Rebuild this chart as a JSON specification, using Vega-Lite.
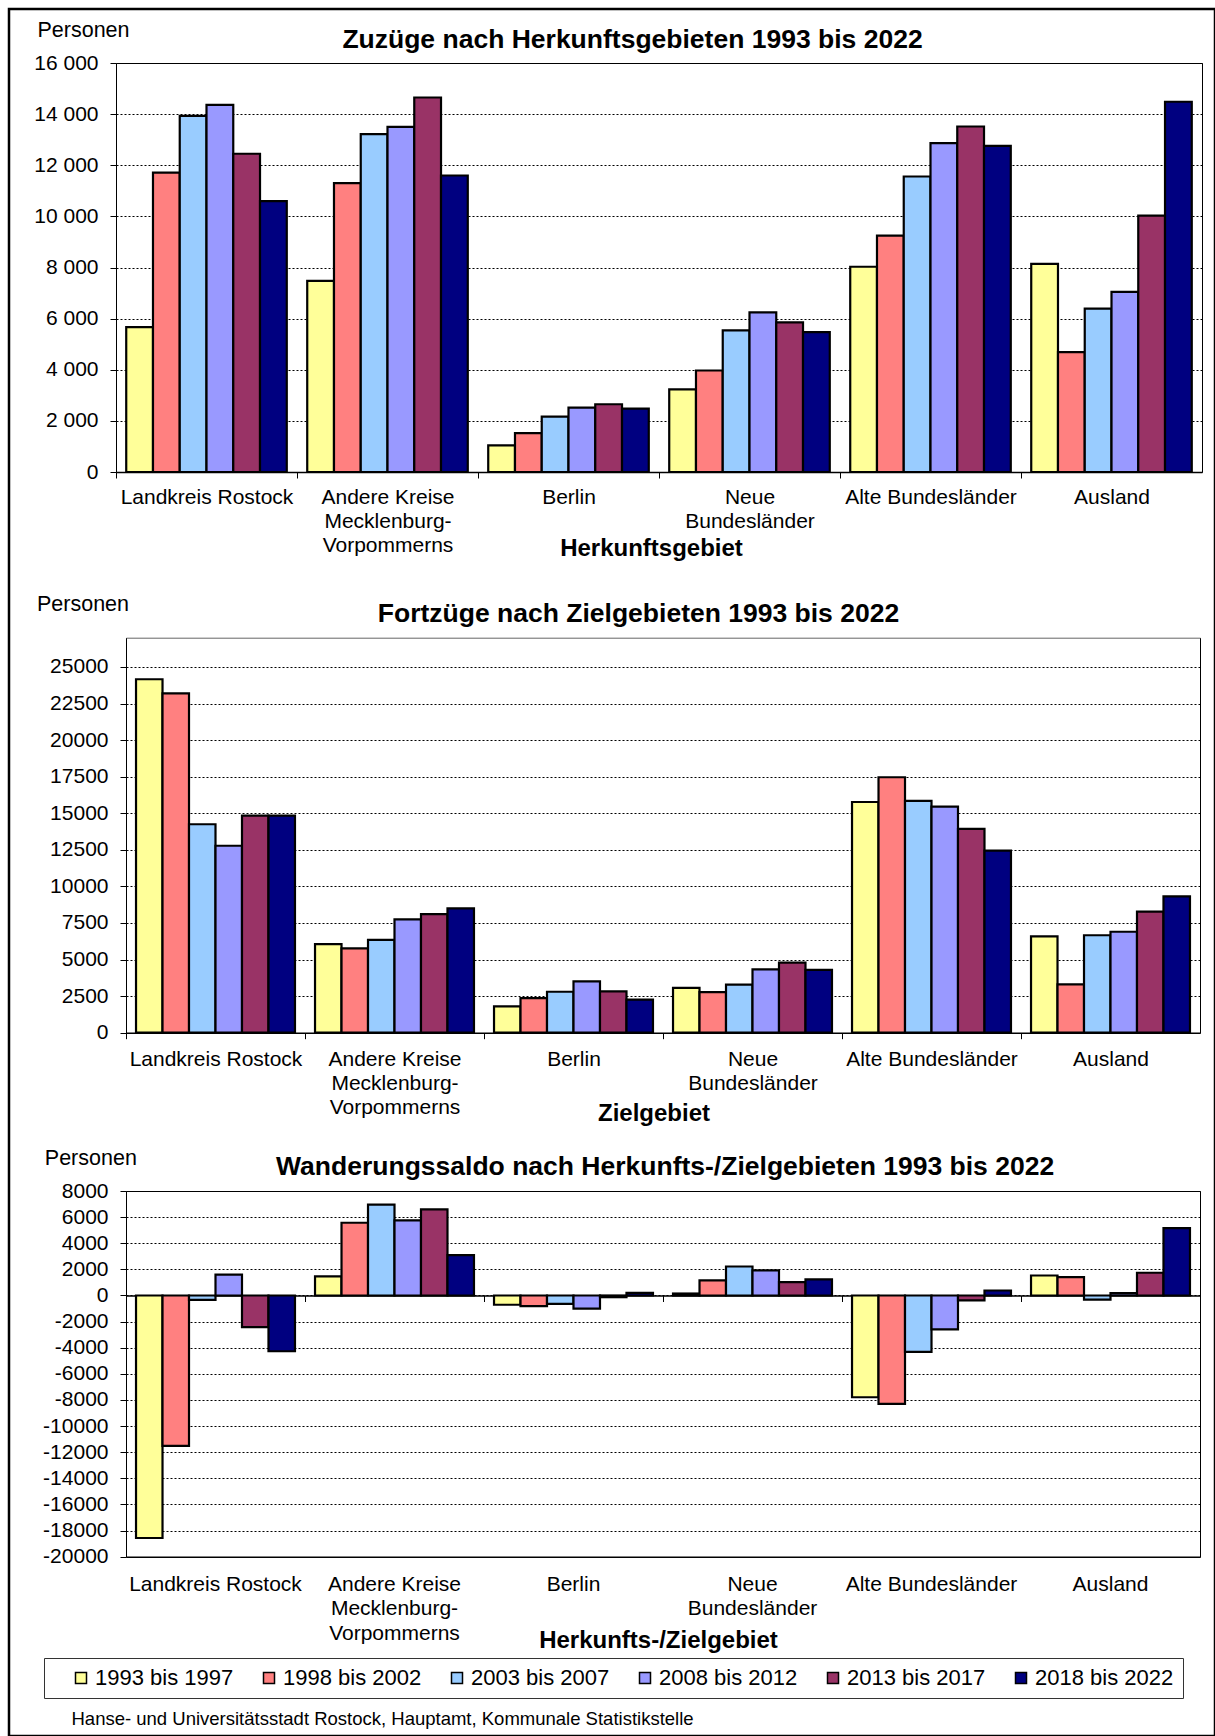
{
  "$schema": "https://vega.github.io/schema/vega-lite/v6.json",
  "width": 1206,
  "height": 1727,
  "padding": {"left": 9, "top": 9, "right": 0, "bottom": 0},
  "autosize": {"type": "none"},
  "background": "white",
  "config": {
    "font": "Liberation Sans",
    "view": {"stroke": "black", "strokeWidth": 2.5},
    "axis": {"labelColor": "black", "titleColor": "black", "domainColor": "black", "tickColor": "black", "labelFont": "Liberation Sans", "titleFont": "Liberation Sans", "labelFontSize": 21, "labelOverlap": false, "labelFlush": false, "labelLimit": 400, "titleFontWeight": "bold", "domainWidth": 1}
  },
  "datasets": {
    "zuzuege": [
      {"gebiet": "Landkreis Rostock", "zeitraum": "1993 bis 1997", "wert": 5670},
      {"gebiet": "Landkreis Rostock", "zeitraum": "1998 bis 2002", "wert": 11710},
      {"gebiet": "Landkreis Rostock", "zeitraum": "2003 bis 2007", "wert": 13930},
      {"gebiet": "Landkreis Rostock", "zeitraum": "2008 bis 2012", "wert": 14360},
      {"gebiet": "Landkreis Rostock", "zeitraum": "2013 bis 2017", "wert": 12450},
      {"gebiet": "Landkreis Rostock", "zeitraum": "2018 bis 2022", "wert": 10600},
      {"gebiet": "Andere Kreise Mecklenburg-Vorpommerns", "zeitraum": "1993 bis 1997", "wert": 7480},
      {"gebiet": "Andere Kreise Mecklenburg-Vorpommerns", "zeitraum": "1998 bis 2002", "wert": 11300},
      {"gebiet": "Andere Kreise Mecklenburg-Vorpommerns", "zeitraum": "2003 bis 2007", "wert": 13220},
      {"gebiet": "Andere Kreise Mecklenburg-Vorpommerns", "zeitraum": "2008 bis 2012", "wert": 13500},
      {"gebiet": "Andere Kreise Mecklenburg-Vorpommerns", "zeitraum": "2013 bis 2017", "wert": 14650},
      {"gebiet": "Andere Kreise Mecklenburg-Vorpommerns", "zeitraum": "2018 bis 2022", "wert": 11600},
      {"gebiet": "Berlin", "zeitraum": "1993 bis 1997", "wert": 1040},
      {"gebiet": "Berlin", "zeitraum": "1998 bis 2002", "wert": 1520},
      {"gebiet": "Berlin", "zeitraum": "2003 bis 2007", "wert": 2170},
      {"gebiet": "Berlin", "zeitraum": "2008 bis 2012", "wert": 2520},
      {"gebiet": "Berlin", "zeitraum": "2013 bis 2017", "wert": 2650},
      {"gebiet": "Berlin", "zeitraum": "2018 bis 2022", "wert": 2480},
      {"gebiet": "Neue Bundesländer", "zeitraum": "1993 bis 1997", "wert": 3230},
      {"gebiet": "Neue Bundesländer", "zeitraum": "1998 bis 2002", "wert": 3970},
      {"gebiet": "Neue Bundesländer", "zeitraum": "2003 bis 2007", "wert": 5540},
      {"gebiet": "Neue Bundesländer", "zeitraum": "2008 bis 2012", "wert": 6245},
      {"gebiet": "Neue Bundesländer", "zeitraum": "2013 bis 2017", "wert": 5850},
      {"gebiet": "Neue Bundesländer", "zeitraum": "2018 bis 2022", "wert": 5470},
      {"gebiet": "Alte Bundesländer", "zeitraum": "1993 bis 1997", "wert": 8030},
      {"gebiet": "Alte Bundesländer", "zeitraum": "1998 bis 2002", "wert": 9245},
      {"gebiet": "Alte Bundesländer", "zeitraum": "2003 bis 2007", "wert": 11560},
      {"gebiet": "Alte Bundesländer", "zeitraum": "2008 bis 2012", "wert": 12865},
      {"gebiet": "Alte Bundesländer", "zeitraum": "2013 bis 2017", "wert": 13515},
      {"gebiet": "Alte Bundesländer", "zeitraum": "2018 bis 2022", "wert": 12760},
      {"gebiet": "Ausland", "zeitraum": "1993 bis 1997", "wert": 8140},
      {"gebiet": "Ausland", "zeitraum": "1998 bis 2002", "wert": 4690},
      {"gebiet": "Ausland", "zeitraum": "2003 bis 2007", "wert": 6390},
      {"gebiet": "Ausland", "zeitraum": "2008 bis 2012", "wert": 7050},
      {"gebiet": "Ausland", "zeitraum": "2013 bis 2017", "wert": 10030},
      {"gebiet": "Ausland", "zeitraum": "2018 bis 2022", "wert": 14485}
    ],
    "fortzuege": [
      {"gebiet": "Landkreis Rostock", "zeitraum": "1993 bis 1997", "wert": 24160},
      {"gebiet": "Landkreis Rostock", "zeitraum": "1998 bis 2002", "wert": 23200},
      {"gebiet": "Landkreis Rostock", "zeitraum": "2003 bis 2007", "wert": 14250},
      {"gebiet": "Landkreis Rostock", "zeitraum": "2008 bis 2012", "wert": 12780},
      {"gebiet": "Landkreis Rostock", "zeitraum": "2013 bis 2017", "wert": 14835},
      {"gebiet": "Landkreis Rostock", "zeitraum": "2018 bis 2022", "wert": 14835},
      {"gebiet": "Andere Kreise Mecklenburg-Vorpommerns", "zeitraum": "1993 bis 1997", "wert": 6060},
      {"gebiet": "Andere Kreise Mecklenburg-Vorpommerns", "zeitraum": "1998 bis 2002", "wert": 5770},
      {"gebiet": "Andere Kreise Mecklenburg-Vorpommerns", "zeitraum": "2003 bis 2007", "wert": 6340},
      {"gebiet": "Andere Kreise Mecklenburg-Vorpommerns", "zeitraum": "2008 bis 2012", "wert": 7750},
      {"gebiet": "Andere Kreise Mecklenburg-Vorpommerns", "zeitraum": "2013 bis 2017", "wert": 8110},
      {"gebiet": "Andere Kreise Mecklenburg-Vorpommerns", "zeitraum": "2018 bis 2022", "wert": 8500},
      {"gebiet": "Berlin", "zeitraum": "1993 bis 1997", "wert": 1800},
      {"gebiet": "Berlin", "zeitraum": "1998 bis 2002", "wert": 2370},
      {"gebiet": "Berlin", "zeitraum": "2003 bis 2007", "wert": 2800},
      {"gebiet": "Berlin", "zeitraum": "2008 bis 2012", "wert": 3510},
      {"gebiet": "Berlin", "zeitraum": "2013 bis 2017", "wert": 2830},
      {"gebiet": "Berlin", "zeitraum": "2018 bis 2022", "wert": 2260},
      {"gebiet": "Neue Bundesländer", "zeitraum": "1993 bis 1997", "wert": 3060},
      {"gebiet": "Neue Bundesländer", "zeitraum": "1998 bis 2002", "wert": 2780},
      {"gebiet": "Neue Bundesländer", "zeitraum": "2003 bis 2007", "wert": 3280},
      {"gebiet": "Neue Bundesländer", "zeitraum": "2008 bis 2012", "wert": 4330},
      {"gebiet": "Neue Bundesländer", "zeitraum": "2013 bis 2017", "wert": 4790},
      {"gebiet": "Neue Bundesländer", "zeitraum": "2018 bis 2022", "wert": 4290},
      {"gebiet": "Alte Bundesländer", "zeitraum": "1993 bis 1997", "wert": 15770},
      {"gebiet": "Alte Bundesländer", "zeitraum": "1998 bis 2002", "wert": 17460},
      {"gebiet": "Alte Bundesländer", "zeitraum": "2003 bis 2007", "wert": 15840},
      {"gebiet": "Alte Bundesländer", "zeitraum": "2008 bis 2012", "wert": 15450},
      {"gebiet": "Alte Bundesländer", "zeitraum": "2013 bis 2017", "wert": 13930},
      {"gebiet": "Alte Bundesländer", "zeitraum": "2018 bis 2022", "wert": 12440},
      {"gebiet": "Ausland", "zeitraum": "1993 bis 1997", "wert": 6590},
      {"gebiet": "Ausland", "zeitraum": "1998 bis 2002", "wert": 3310},
      {"gebiet": "Ausland", "zeitraum": "2003 bis 2007", "wert": 6660},
      {"gebiet": "Ausland", "zeitraum": "2008 bis 2012", "wert": 6900},
      {"gebiet": "Ausland", "zeitraum": "2013 bis 2017", "wert": 8270},
      {"gebiet": "Ausland", "zeitraum": "2018 bis 2022", "wert": 9320}
    ],
    "saldo": [
      {"gebiet": "Landkreis Rostock", "zeitraum": "1993 bis 1997", "wert": -18570},
      {"gebiet": "Landkreis Rostock", "zeitraum": "1998 bis 2002", "wert": -11520},
      {"gebiet": "Landkreis Rostock", "zeitraum": "2003 bis 2007", "wert": -330},
      {"gebiet": "Landkreis Rostock", "zeitraum": "2008 bis 2012", "wert": 1590},
      {"gebiet": "Landkreis Rostock", "zeitraum": "2013 bis 2017", "wert": -2430},
      {"gebiet": "Landkreis Rostock", "zeitraum": "2018 bis 2022", "wert": -4270},
      {"gebiet": "Andere Kreise Mecklenburg-Vorpommerns", "zeitraum": "1993 bis 1997", "wert": 1460},
      {"gebiet": "Andere Kreise Mecklenburg-Vorpommerns", "zeitraum": "1998 bis 2002", "wert": 5570},
      {"gebiet": "Andere Kreise Mecklenburg-Vorpommerns", "zeitraum": "2003 bis 2007", "wert": 6950},
      {"gebiet": "Andere Kreise Mecklenburg-Vorpommerns", "zeitraum": "2008 bis 2012", "wert": 5750},
      {"gebiet": "Andere Kreise Mecklenburg-Vorpommerns", "zeitraum": "2013 bis 2017", "wert": 6590},
      {"gebiet": "Andere Kreise Mecklenburg-Vorpommerns", "zeitraum": "2018 bis 2022", "wert": 3090},
      {"gebiet": "Berlin", "zeitraum": "1993 bis 1997", "wert": -710},
      {"gebiet": "Berlin", "zeitraum": "1998 bis 2002", "wert": -820},
      {"gebiet": "Berlin", "zeitraum": "2003 bis 2007", "wert": -640},
      {"gebiet": "Berlin", "zeitraum": "2008 bis 2012", "wert": -1000},
      {"gebiet": "Berlin", "zeitraum": "2013 bis 2017", "wert": -130},
      {"gebiet": "Berlin", "zeitraum": "2018 bis 2022", "wert": 200},
      {"gebiet": "Neue Bundesländer", "zeitraum": "1993 bis 1997", "wert": 150},
      {"gebiet": "Neue Bundesländer", "zeitraum": "1998 bis 2002", "wert": 1150},
      {"gebiet": "Neue Bundesländer", "zeitraum": "2003 bis 2007", "wert": 2220},
      {"gebiet": "Neue Bundesländer", "zeitraum": "2008 bis 2012", "wert": 1920},
      {"gebiet": "Neue Bundesländer", "zeitraum": "2013 bis 2017", "wert": 1020},
      {"gebiet": "Neue Bundesländer", "zeitraum": "2018 bis 2022", "wert": 1230},
      {"gebiet": "Alte Bundesländer", "zeitraum": "1993 bis 1997", "wert": -7790},
      {"gebiet": "Alte Bundesländer", "zeitraum": "1998 bis 2002", "wert": -8300},
      {"gebiet": "Alte Bundesländer", "zeitraum": "2003 bis 2007", "wert": -4320},
      {"gebiet": "Alte Bundesländer", "zeitraum": "2008 bis 2012", "wert": -2600},
      {"gebiet": "Alte Bundesländer", "zeitraum": "2013 bis 2017", "wert": -380},
      {"gebiet": "Alte Bundesländer", "zeitraum": "2018 bis 2022", "wert": 380},
      {"gebiet": "Ausland", "zeitraum": "1993 bis 1997", "wert": 1530},
      {"gebiet": "Ausland", "zeitraum": "1998 bis 2002", "wert": 1400},
      {"gebiet": "Ausland", "zeitraum": "2003 bis 2007", "wert": -310},
      {"gebiet": "Ausland", "zeitraum": "2008 bis 2012", "wert": 180},
      {"gebiet": "Ausland", "zeitraum": "2013 bis 2017", "wert": 1740},
      {"gebiet": "Ausland", "zeitraum": "2018 bis 2022", "wert": 5160}
    ]
  },
  "layer": [
    {
      "data": {"name": "zuzuege"},
      "mark": {"type": "bar", "stroke": "black", "strokeWidth": 2.2},
      "encoding": {
        "x": {"field": "gebiet", "type": "nominal", "sort": ["Landkreis Rostock", "Andere Kreise Mecklenburg-Vorpommerns", "Berlin", "Neue Bundesländer", "Alte Bundesländer", "Ausland"],
          "scale": {"range": [107, 1193], "paddingInner": 0.113, "paddingOuter": 0.0565},
          "axis": {"orient": "bottom", "offset": -1264, "ticks": true, "tickSize": 6, "tickOffset": -90.5, "labelOffset": 90.5, "labelPadding": 8, "labelAngle": 0, "labelLineHeight": 24.4, "grid": false, "domainWidth": 1.5,
            "labelExpr": "datum.value == 'Andere Kreise Mecklenburg-Vorpommerns' ? ['Andere Kreise', 'Mecklenburg-', 'Vorpommerns'] : datum.value == 'Neue Bundesländer' ? ['Neue', 'Bundesländer'] : datum.label",
            "title": "Herkunftsgebiet", "titleFontSize": 24, "titleX": 642, "titleY": 76, "titleBaseline": "middle", "titleAlign": "center"}},
        "xOffset": {"field": "zeitraum", "type": "nominal", "sort": ["1993 bis 1997", "1998 bis 2002", "2003 bis 2007", "2008 bis 2012", "2013 bis 2017", "2018 bis 2022"]},
        "y": {"field": "wert", "type": "quantitative", "scale": {"domain": [0, 16000], "range": [463, 54], "nice": false},
          "axis": {"orient": "left", "offset": -107, "values": [0, 2000, 4000, 6000, 8000, 10000, 12000, 14000, 16000], "labelExpr": "replace(format(datum.value, ',d'), ',', ' ')", "tickSize": 6, "labelPadding": 12, "grid": true, "gridDash": [2, 2], "gridColor": "black", "gridWidth": 1,
            "title": "Personen", "titleAngle": 0, "titleAlign": "left", "titleBaseline": "middle", "titleX": -79, "titleY": 21, "titleFontSize": 21.5, "titleFontWeight": "normal"}},
        "color": {"field": "zeitraum", "type": "nominal", "sort": ["1993 bis 1997", "1998 bis 2002", "2003 bis 2007", "2008 bis 2012", "2013 bis 2017", "2018 bis 2022"],
          "scale": {"domain": ["1993 bis 1997", "1998 bis 2002", "2003 bis 2007", "2008 bis 2012", "2013 bis 2017", "2018 bis 2022"], "range": ["#FFFF99", "#FF8080", "#99CCFF", "#9999FF", "#993366", "#000080"]},
          "legend": {"orient": "none", "legendX": 35, "legendY": 1649, "direction": "horizontal", "columns": 6, "gridAlign": "each", "title": " ", "titleOrient": "left", "titlePadding": 17, "titleFontSize": 2, "padding": 9, "strokeColor": "#333333", "fillColor": "white", "symbolType": "square", "symbolSize": 121, "symbolStrokeColor": "black", "symbolStrokeWidth": 1.5, "symbolOpacity": 1, "labelFontSize": 22, "labelOffset": 3, "labelColor": "black", "columnPadding": 24,
            "labelExpr": "datum.label == '2018 bis 2022' ? datum.label + '\u00a0\u00a0\u00a0\u00a0\u00a0\u00a0\u00a0' : datum.label"}}
      }
    },
    {
      "data": {"name": "zuzuege"},
      "mark": {"type": "bar", "opacity": 0},
      "encoding": {
        "x": {"field": "gebiet", "type": "nominal", "sort": ["Landkreis Rostock", "Andere Kreise Mecklenburg-Vorpommerns", "Berlin", "Neue Bundesländer", "Alte Bundesländer", "Ausland"],
          "scale": {"range": [107, 1193], "paddingInner": 0.113, "paddingOuter": 0.0565},
          "axis": {"orient": "top", "offset": -54, "labels": false, "ticks": false, "grid": false, "domainColor": "black",
            "title": "Zuzüge nach Herkunftsgebieten 1993 bis 2022", "titleFontSize": 26.5, "titleX": 623, "titleY": -24, "titleBaseline": "middle", "titleAlign": "center"}},
        "y": {"field": "wert", "type": "quantitative", "scale": {"domain": [0, 16000], "range": [463, 54], "nice": false},
          "axis": {"orient": "right", "offset": -13, "labels": false, "ticks": false, "grid": false, "title": null}}
      }
    },
    {
      "data": {"name": "fortzuege"},
      "mark": {"type": "bar", "stroke": "black", "strokeWidth": 2.2},
      "encoding": {
        "x": {"field": "gebiet", "type": "nominal", "sort": ["Landkreis Rostock", "Andere Kreise Mecklenburg-Vorpommerns", "Berlin", "Neue Bundesländer", "Alte Bundesländer", "Ausland"],
          "scale": {"range": [117, 1191], "paddingInner": 0.112, "paddingOuter": 0.056},
          "axis": {"orient": "bottom", "offset": -703.3, "ticks": true, "tickSize": 6, "tickOffset": -89.5, "labelOffset": 89.5, "labelPadding": 9.5, "labelAngle": 0, "labelLineHeight": 24.4, "grid": false, "domainWidth": 1.5,
            "labelExpr": "datum.value == 'Andere Kreise Mecklenburg-Vorpommerns' ? ['Andere Kreise', 'Mecklenburg-', 'Vorpommerns'] : datum.value == 'Neue Bundesländer' ? ['Neue', 'Bundesländer'] : datum.label",
            "title": "Zielgebiet", "titleFontSize": 24, "titleX": 644.5, "titleY": 80.3, "titleBaseline": "middle", "titleAlign": "center"}},
        "xOffset": {"field": "zeitraum", "type": "nominal", "sort": ["1993 bis 1997", "1998 bis 2002", "2003 bis 2007", "2008 bis 2012", "2013 bis 2017", "2018 bis 2022"]},
        "y": {"field": "wert", "type": "quantitative", "scale": {"domain": [0, 27000], "range": [1023.7, 628.7], "nice": false},
          "axis": {"orient": "left", "offset": -117, "values": [0, 2500, 5000, 7500, 10000, 12500, 15000, 17500, 20000, 22500, 25000], "labelExpr": "'' + datum.value", "tickSize": 6, "labelPadding": 12, "grid": true, "gridDash": [2, 2], "gridColor": "black", "gridWidth": 1,
            "title": "Personen", "titleAngle": 0, "titleAlign": "left", "titleBaseline": "middle", "titleX": -89.5, "titleY": 595.8, "titleFontSize": 21.5, "titleFontWeight": "normal"}},
        "color": {"field": "zeitraum", "type": "nominal", "sort": ["1993 bis 1997", "1998 bis 2002", "2003 bis 2007", "2008 bis 2012", "2013 bis 2017", "2018 bis 2022"],
          "scale": {"domain": ["1993 bis 1997", "1998 bis 2002", "2003 bis 2007", "2008 bis 2012", "2013 bis 2017", "2018 bis 2022"], "range": ["#FFFF99", "#FF8080", "#99CCFF", "#9999FF", "#993366", "#000080"]},
          "legend": {"orient": "none", "legendX": 35, "legendY": 1649, "direction": "horizontal", "columns": 6, "gridAlign": "each", "title": " ", "titleOrient": "left", "titlePadding": 17, "titleFontSize": 2, "padding": 9, "strokeColor": "#333333", "fillColor": "white", "symbolType": "square", "symbolSize": 121, "symbolStrokeColor": "black", "symbolStrokeWidth": 1.5, "symbolOpacity": 1, "labelFontSize": 22, "labelOffset": 3, "labelColor": "black", "columnPadding": 24,
            "labelExpr": "datum.label == '2018 bis 2022' ? datum.label + '\u00a0\u00a0\u00a0\u00a0\u00a0\u00a0\u00a0' : datum.label"}}
      }
    },
    {
      "data": {"name": "fortzuege"},
      "mark": {"type": "bar", "opacity": 0},
      "encoding": {
        "x": {"field": "gebiet", "type": "nominal", "sort": ["Landkreis Rostock", "Andere Kreise Mecklenburg-Vorpommerns", "Berlin", "Neue Bundesländer", "Alte Bundesländer", "Ausland"],
          "scale": {"range": [117, 1191], "paddingInner": 0.112, "paddingOuter": 0.056},
          "axis": {"orient": "top", "offset": -628.7, "labels": false, "ticks": false, "grid": false, "domainColor": "#666666",
            "title": "Fortzüge nach Zielgebieten 1993 bis 2022", "titleFontSize": 26.5, "titleX": 629, "titleY": -24, "titleBaseline": "middle", "titleAlign": "center"}},
        "y": {"field": "wert", "type": "quantitative", "scale": {"domain": [0, 27000], "range": [1023.7, 628.7], "nice": false},
          "axis": {"orient": "right", "offset": -15, "labels": false, "ticks": false, "grid": false, "title": null}}
      }
    },
    {
      "data": {"name": "saldo"},
      "mark": {"type": "bar", "opacity": 0},
      "encoding": {
        "x": {"field": "gebiet", "type": "nominal", "sort": ["Landkreis Rostock", "Andere Kreise Mecklenburg-Vorpommerns", "Berlin", "Neue Bundesländer", "Alte Bundesländer", "Ausland"],
          "scale": {"range": [117, 1191], "paddingInner": 0.112, "paddingOuter": 0.056},
          "axis": {"orient": "bottom", "offset": -440.5, "labels": false, "ticks": true, "tickSize": 6, "tickOffset": -89.5, "grid": false, "domainWidth": 1.5, "title": null}},
        "y": {"field": "wert", "type": "quantitative", "scale": {"domain": [-20000, 8000], "range": [1547.7, 1182], "nice": false}, "axis": null}
      }
    },
    {
      "data": {"name": "saldo"},
      "mark": {"type": "bar", "stroke": "black", "strokeWidth": 2.2},
      "encoding": {
        "x": {"field": "gebiet", "type": "nominal", "sort": ["Landkreis Rostock", "Andere Kreise Mecklenburg-Vorpommerns", "Berlin", "Neue Bundesländer", "Alte Bundesländer", "Ausland"],
          "scale": {"range": [117, 1191], "paddingInner": 0.112, "paddingOuter": 0.056},
          "axis": {"orient": "bottom", "offset": -179.3, "ticks": false, "tickSize": 0, "labelPadding": 16.7, "labelAngle": 0, "labelLineHeight": 24.4, "grid": false, "domainWidth": 1.5,
            "labelExpr": "datum.value == 'Andere Kreise Mecklenburg-Vorpommerns' ? ['Andere Kreise', 'Mecklenburg-', 'Vorpommerns'] : datum.value == 'Neue Bundesländer' ? ['Neue', 'Bundesländer'] : datum.label",
            "title": "Herkunfts-/Zielgebiet", "titleFontSize": 24, "titleX": 649, "titleY": 83.7, "titleBaseline": "middle", "titleAlign": "center"}},
        "xOffset": {"field": "zeitraum", "type": "nominal", "sort": ["1993 bis 1997", "1998 bis 2002", "2003 bis 2007", "2008 bis 2012", "2013 bis 2017", "2018 bis 2022"]},
        "y": {"field": "wert", "type": "quantitative", "scale": {"domain": [-20000, 8000], "range": [1547.7, 1182], "nice": false},
          "axis": {"orient": "left", "offset": -117, "values": [-20000, -18000, -16000, -14000, -12000, -10000, -8000, -6000, -4000, -2000, 0, 2000, 4000, 6000, 8000], "labelExpr": "'' + datum.value", "tickSize": 6, "labelPadding": 12, "grid": true, "gridDash": [2, 2], "gridColor": "black", "gridWidth": 1,
            "title": "Personen", "titleAngle": 0, "titleAlign": "left", "titleBaseline": "middle", "titleX": -81.7, "titleY": 1149.6, "titleFontSize": 21.5, "titleFontWeight": "normal"}},
        "color": {"field": "zeitraum", "type": "nominal", "sort": ["1993 bis 1997", "1998 bis 2002", "2003 bis 2007", "2008 bis 2012", "2013 bis 2017", "2018 bis 2022"],
          "scale": {"domain": ["1993 bis 1997", "1998 bis 2002", "2003 bis 2007", "2008 bis 2012", "2013 bis 2017", "2018 bis 2022"], "range": ["#FFFF99", "#FF8080", "#99CCFF", "#9999FF", "#993366", "#000080"]},
          "legend": {"orient": "none", "legendX": 35, "legendY": 1649, "direction": "horizontal", "columns": 6, "gridAlign": "each", "title": " ", "titleOrient": "left", "titlePadding": 17, "titleFontSize": 2, "padding": 9, "strokeColor": "#333333", "fillColor": "white", "symbolType": "square", "symbolSize": 121, "symbolStrokeColor": "black", "symbolStrokeWidth": 1.5, "symbolOpacity": 1, "labelFontSize": 22, "labelOffset": 3, "labelColor": "black", "columnPadding": 24,
            "labelExpr": "datum.label == '2018 bis 2022' ? datum.label + '\u00a0\u00a0\u00a0\u00a0\u00a0\u00a0\u00a0' : datum.label"}}
      }
    },
    {
      "data": {"name": "saldo"},
      "mark": {"type": "bar", "opacity": 0},
      "encoding": {
        "x": {"field": "gebiet", "type": "nominal", "sort": ["Landkreis Rostock", "Andere Kreise Mecklenburg-Vorpommerns", "Berlin", "Neue Bundesländer", "Alte Bundesländer", "Ausland"],
          "scale": {"range": [117, 1191], "paddingInner": 0.112, "paddingOuter": 0.056},
          "axis": {"orient": "top", "offset": -1182, "labels": false, "ticks": false, "grid": false, "domainColor": "black",
            "title": "Wanderungssaldo nach Herkunfts-/Zielgebieten 1993 bis 2022", "titleFontSize": 26.5, "titleX": 655.6, "titleY": -24.7, "titleBaseline": "middle", "titleAlign": "center"}},
        "y": {"field": "wert", "type": "quantitative", "scale": {"domain": [-20000, 8000], "range": [1547.7, 1182], "nice": false},
          "axis": {"orient": "right", "offset": -15, "labels": false, "ticks": false, "grid": false,
            "title": "Hanse- und Universitätsstadt Rostock, Hauptamt, Kommunale Statistikstelle", "titleAngle": 0, "titleAlign": "left", "titleBaseline": "middle", "titleX": -1129, "titleY": 1709, "titleFontSize": 18.5, "titleFontWeight": "normal"}}
      }
    }
  ],
  "resolve": {"scale": {"x": "independent", "y": "independent", "xOffset": "independent", "color": "shared"}, "axis": {"x": "independent", "y": "independent"}}
}
